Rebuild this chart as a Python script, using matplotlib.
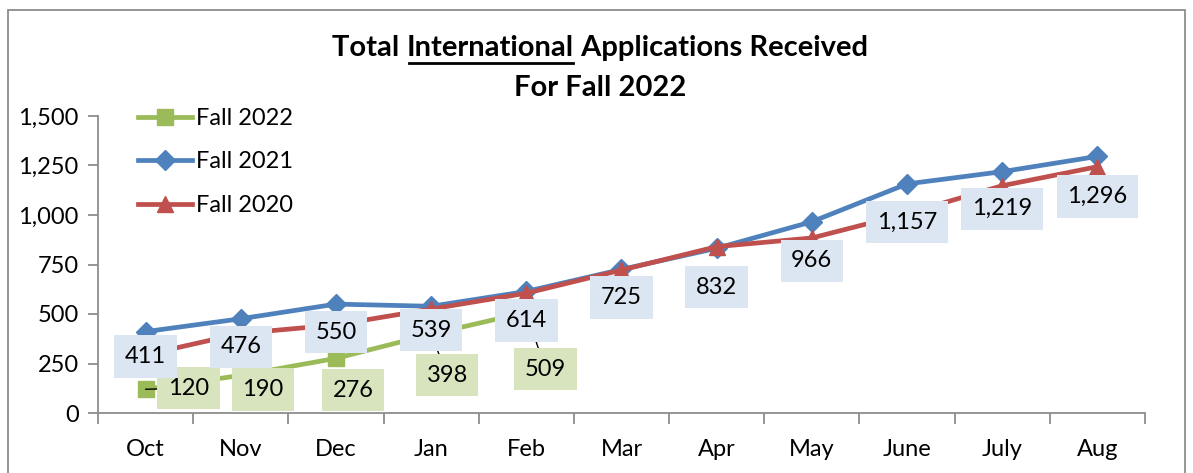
import matplotlib.pyplot as plt
from matplotlib.patches import Rectangle
from matplotlib.lines import Line2D

# data
months = ["Oct", "Nov", "Dec", "Jan", "Feb", "Mar", "Apr", "May", "June", "July", "Aug"]
fall_2022 = [120, 190, 276, 398, 509]
fall_2021 = [411, 476, 550, 539, 614, 725, 832, 966, 1157, 1219, 1296]
fall_2020 = [294, 402, 445, 525, 605, 722, 840, 884, 1007, 1148, 1244]
yticks = [0, 250, 500, 750, 1000, 1250, 1500]

c_green = "#9bbb59"
c_blue = "#4f81bd"
c_red = "#c0504d"
box_blue = "#dce6f2"
box_green = "#d7e4bd"

plt.rcParams["font.family"] = ["Lato", "DejaVu Sans"]

W, H = 1193, 473
fig = plt.figure(figsize=(W / 100, H / 100), dpi=100)

# outer chart border
fig.patches.append(Rectangle((8 / W, -0.05), 1177 / W, 1 - 10 / H + 0.05,
                             transform=fig.transFigure, fill=False,
                             edgecolor="#8c8c8c", lw=1.3))

ax = fig.add_axes([98 / W, 1 - 413 / H, 1047 / W, 297 / H])
x = list(range(len(months)))

l21, = ax.plot(x, fall_2021, color=c_blue, lw=3.4, marker="D", ms=10.5, zorder=3)
l20, = ax.plot(x, fall_2020, color=c_red, lw=3.4, marker="^", ms=12, zorder=3)
l22, = ax.plot(x[:len(fall_2022)], fall_2022, color=c_green, lw=3.4, marker="s", ms=11, zorder=3)

ax.set_xlim(-0.5, len(months) - 0.5)
ax.set_ylim(0, 1500)
ax.set_yticks(yticks)
ax.set_yticklabels([f"{v:,}" for v in yticks])
ax.set_xticks([i - 0.5 for i in range(len(months) + 1)])
ax.set_xticklabels([])
ax.set_xticks(x, minor=True)
ax.set_xticklabels(months, minor=True)
ax.tick_params(axis="x", which="major", direction="out", length=8, color="#8c8c8c", width=1.3)
ax.tick_params(axis="x", which="minor", length=0, labelsize=17, pad=19)
ax.tick_params(axis="y", direction="out", length=7, color="#8c8c8c", width=1.3,
               labelsize=17, pad=7)
for s in ["top", "right"]:
    ax.spines[s].set_visible(False)
for s in ["left", "bottom"]:
    ax.spines[s].set_color("#8c8c8c")
    ax.spines[s].set_linewidth(1.3)

# data labels (offsets in pixels)
off_21 = [(0, -25), (0, -28), (0, -28), (0, -24), (0, -29), (0, -28),
          (0, -39), (0, -39), (0, -38), (0, -37), (0, -40)]
off_22 = [(43, 1), (22, -14), (17, -32), (16, -41), (19, -57)]
lead_22 = [True, False, False, True, True]

for i, v in enumerate(fall_2022):
    ax.annotate(f"{v:,}", (i, v), xytext=off_22[i], textcoords="offset pixels",
                ha="center", va="center", fontsize=17, zorder=5,
                bbox=dict(boxstyle="square,pad=0.45", fc=box_green, ec="none"),
                arrowprops=dict(arrowstyle="-", color="black", lw=1, shrinkA=0, shrinkB=0)
                if lead_22[i] else None)
for i, v in enumerate(fall_2021):
    ax.annotate(f"{v:,}", (i, v), xytext=off_21[i], textcoords="offset pixels",
                ha="center", va="center", fontsize=17, zorder=6,
                bbox=dict(boxstyle="square,pad=0.45", fc=box_blue, ec="none"))

ax.legend([l22, l21, l20], ["Fall 2022", "Fall 2021", "Fall 2020"],
          loc="upper left", bbox_to_anchor=(138 / W, 1 - 108 / H),
          bbox_transform=fig.transFigure, frameon=False, fontsize=17,
          handlelength=2.3, handletextpad=0.15, labelspacing=0.95,
          borderpad=0, borderaxespad=0)

# title with underlined word
parts = ["Total ", "International", " Applications Received"]
y1 = 1 - 48 / H
texts = [fig.text(0, y1, p, fontsize=21, fontweight="bold", va="center", ha="left")
         for p in parts]
fig.canvas.draw()
r = fig.canvas.get_renderer()
widths = [t.get_window_extent(r).width for t in texts]
xpos = 600 - sum(widths) / 2
for t, w in zip(texts, widths):
    t.set_x(xpos / W)
    xpos += w
ul_left = (600 - sum(widths) / 2 + widths[0] + 2) / W
ul_right = ul_left + (widths[1] - 3) / W
fig.lines.append(Line2D([ul_left, ul_right], [1 - 63 / H] * 2, transform=fig.transFigure,
                        color="black", lw=2))
fig.text(600 / W, 1 - 88 / H, "For Fall 2022", fontsize=21, fontweight="bold",
         ha="center", va="center")

fig.savefig("out.png", dpi=100)
